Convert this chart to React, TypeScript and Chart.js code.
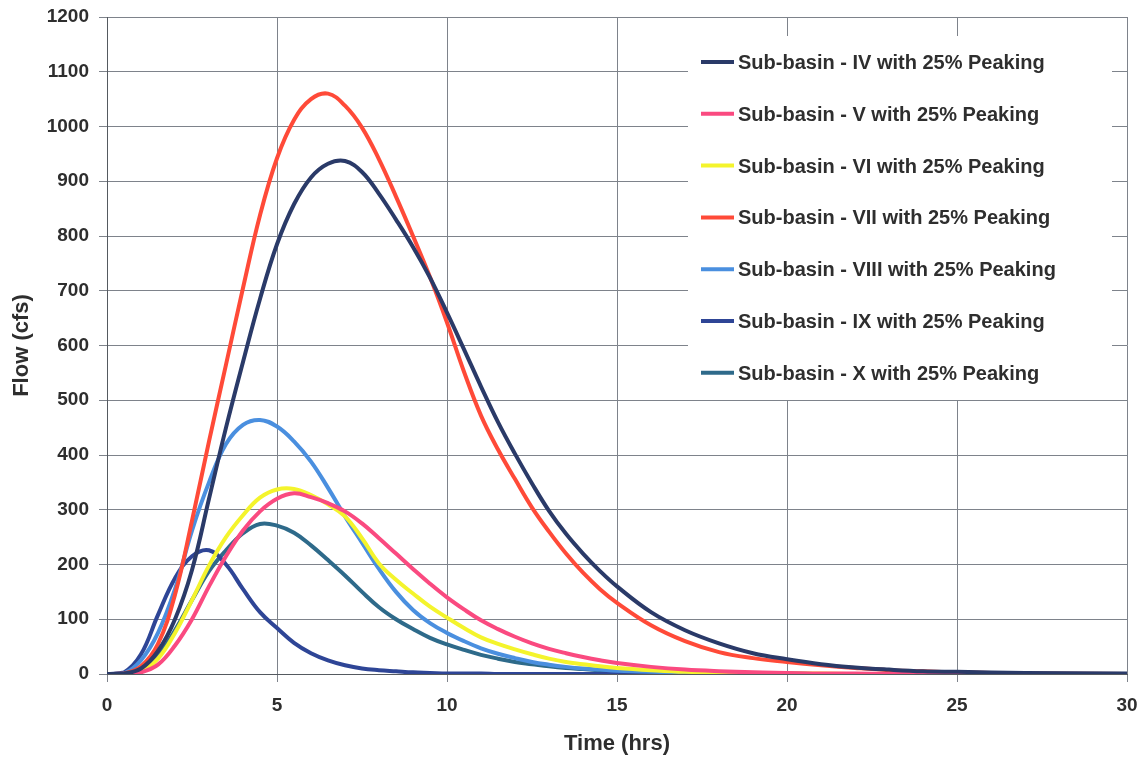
import React, { useEffect, useRef } from "react";
import { Chart, registerables } from "chart.js";

Chart.register(...registerables);

// Time (hrs)
const times = [
  0, 0.5, 1, 1.5, 2, 2.5, 3, 3.5, 4, 4.5, 5, 5.5, 6, 6.5, 7, 7.5, 8, 8.5, 9, 9.5,
  10, 10.5, 11, 11.5, 12, 12.5, 13, 13.5, 14, 14.5, 15, 16, 17, 18, 19, 20, 21, 22,
  23, 24, 25, 27, 30,
];

// Flow (cfs) per sub-basin
const subIV = [
  0, 1, 10, 42, 100, 190, 320, 450, 570, 685, 785, 858, 907, 932, 937, 917, 877, 830, 780, 724,
  660, 593, 525, 460, 402, 348, 298, 256, 220, 188, 160, 113, 80, 56, 38, 27, 18, 12, 8, 5, 4, 2, 1,
];
const subV = [
  0, 0, 3, 17, 52, 100, 160, 215, 262, 297, 320, 330, 323, 312, 297, 275, 248, 220, 192, 165,
  140, 118, 98, 82, 68, 56, 46, 38, 31, 25, 20, 13, 8, 5, 3, 2, 1, 1, 0, 0, 0, 0, 0,
];
const subVI = [
  0, 0, 5, 28, 75, 135, 198, 250, 290, 322, 337, 338, 327, 310, 288, 248, 202, 172, 147, 123,
  103, 84, 67, 55, 45, 36, 28, 22, 18, 14, 11, 7, 4, 3, 2, 1, 1, 0, 0, 0, 0, 0, 0,
];
const subVII = [
  0, 1, 14, 55, 145, 280, 425, 565, 705, 838, 942, 1012, 1050, 1060, 1038, 998, 940, 872, 800, 725,
  642, 552, 472, 410, 356, 304, 260, 220, 185, 155, 130, 89, 60, 40, 29, 22, 16, 11, 7, 5, 3, 1, 0,
];
const subVIII = [
  0, 1, 25, 75, 155, 262, 350, 420, 455, 464, 452, 425, 388, 340, 288, 240, 192, 150, 117, 93,
  75, 60, 47, 37, 29, 22, 17, 13, 10, 8, 6, 4, 3, 2, 1, 1, 0, 0, 0, 0, 0, 0, 0,
];
const subIX = [
  0, 3, 36, 108, 175, 215, 226, 200, 155, 113, 84, 57, 38, 25, 16, 10, 7, 5, 3, 2,
  1, 1, 1, 0, 0, 0, 0, 0, 0, 0, 0, 0, 0, 0, 0, 0, 0, 0, 0, 0, 0, 0, 0,
];
const subX = [
  0, 0, 7, 33, 80, 135, 188, 226, 257, 274, 271, 258, 235, 208, 180, 150, 122, 100, 82, 66,
  54, 44, 35, 28, 22, 18, 14, 11, 9, 7, 6, 4, 2, 2, 1, 1, 0, 0, 0, 0, 0, 0, 0,
];

const seriesNames = [
  "Sub-basin - IV with 25% Peaking",
  "Sub-basin - V with 25% Peaking",
  "Sub-basin - VI with 25% Peaking",
  "Sub-basin - VII with 25% Peaking",
  "Sub-basin - VIII with 25% Peaking",
  "Sub-basin - IX with 25% Peaking",
  "Sub-basin - X with 25% Peaking",
];
const seriesValues = [subIV, subV, subVI, subVII, subVIII, subIX, subX];
const seriesColors = [
  "#2a3a68",
  "#fa4a80",
  "#f4f42c",
  "#ff4a38",
  "#4a8fdf",
  "#2e4596",
  "#2e6a8a",
];

const FONT = "'Liberation Sans', Arial, Helvetica, sans-serif";
const TEXT = "#2e2e2e";
const GRID = "#7e838b";

const boxLegend = {
  id: "boxLegend",
  beforeDatasetsDraw(chart: any) {
    const ctx = chart.ctx;
    ctx.save();
    ctx.fillStyle = "#ffffff";
    ctx.fillRect(688, 36, 424, 364);
    ctx.font = `bold 20px ${FONT}`;
    ctx.textBaseline = "middle";
    ctx.textAlign = "left";
    chart.data.datasets.forEach((ds: any, i: number) => {
      const y = 62 + i * 51.8;
      ctx.strokeStyle = ds.borderColor;
      ctx.lineWidth = 4;
      ctx.lineCap = "butt";
      ctx.beginPath();
      ctx.moveTo(701, y);
      ctx.lineTo(734, y);
      ctx.stroke();
      ctx.fillStyle = TEXT;
      ctx.fillText(ds.label, 738, y + 1.5);
    });
    ctx.restore();
  },
};

export default function App() {
  const ref = useRef<HTMLCanvasElement | null>(null);

  useEffect(() => {
    if (!ref.current) return;
    const chart = new Chart(ref.current, {
      type: "line",
      data: {
        datasets: seriesNames.map((name, si) => ({
          label: name,
          data: times.map((t, i) => ({ x: t, y: seriesValues[si][i] })),
          borderColor: seriesColors[si],
          backgroundColor: seriesColors[si],
          borderWidth: 4,
          pointRadius: 0,
          fill: false,
          tension: 0.4,
        })),
      },
      options: {
        animation: false,
        responsive: true,
        maintainAspectRatio: false,
        layout: { padding: { top: 17, right: 13, left: 0, bottom: 0 } },
        plugins: {
          legend: { display: false },
          tooltip: { enabled: false },
        },
        scales: {
          x: {
            type: "linear",
            min: 0,
            max: 30,
            ticks: {
              stepSize: 5,
              color: TEXT,
              padding: 12,
              font: { family: FONT, size: 19, weight: "bold" },
              callback: (v: any) => String(v),
            },
            grid: { color: GRID, lineWidth: 1, tickLength: 8 },
            border: { color: "#555a60", width: 1 },
            title: {
              display: true,
              text: "Time (hrs)",
              color: TEXT,
              font: { family: FONT, size: 22, weight: "bold" },
              padding: { top: 0, bottom: 1 },
            },
            afterFit: (s: any) => {
              s.height = 84;
              s.paddingLeft = 0;
              s.paddingRight = 0;
            },
          },
          y: {
            min: 0,
            max: 1200,
            ticks: {
              stepSize: 100,
              color: TEXT,
              padding: 10,
              font: { family: FONT, size: 19, weight: "bold" },
              callback: (v: any) => String(v),
            },
            grid: { color: GRID, lineWidth: 1, tickLength: 8 },
            border: { color: "#555a60", width: 1 },
            title: {
              display: true,
              text: "Flow (cfs)",
              color: TEXT,
              font: { family: FONT, size: 22, weight: "bold" },
              padding: { top: 9, bottom: 0 },
            },
            afterFit: (s: any) => {
              s.width = 107;
              s.paddingTop = 0;
              s.paddingBottom = 0;
            },
          },
        },
      },
      plugins: [boxLegend],
    });
    return () => chart.destroy();
  }, []);

  return (
    <div
      style={{
        position: "fixed",
        left: 0,
        top: 0,
        width: 1140,
        height: 758,
        background: "#ffffff",
      }}
    >
      <canvas ref={ref} />
    </div>
  );
}
